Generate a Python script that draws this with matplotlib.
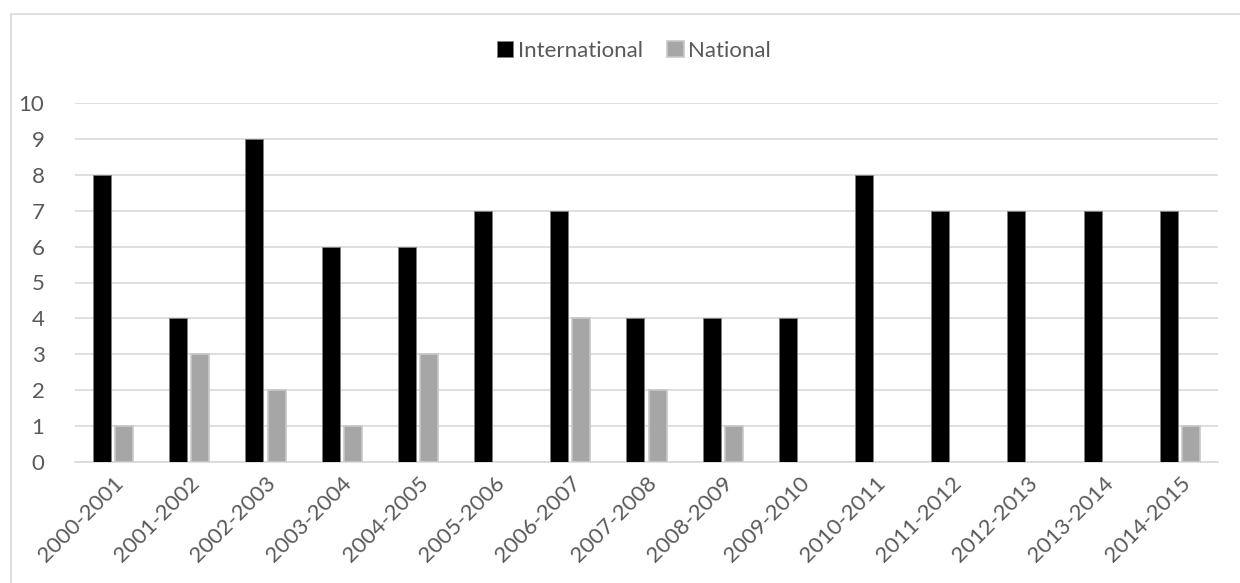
import numpy as np
import matplotlib
matplotlib.use("Agg")
import matplotlib.pyplot as plt
from matplotlib.patches import Rectangle

plt.rcParams["font.family"] = ["Lato", "DejaVu Sans"]

# ── Datos ────────────────────────────────────────────────────────
seasons = ["2000-2001", "2001-2002", "2002-2003", "2003-2004", "2004-2005",
           "2005-2006", "2006-2007", "2007-2008", "2008-2009", "2009-2010",
           "2010-2011", "2011-2012", "2012-2013", "2013-2014", "2014-2015"]
international = [8, 4, 9, 6, 6, 7, 7, 4, 4, 4, 8, 7, 7, 7, 7]
national = [1, 3, 2, 1, 3, 0, 4, 2, 1, 0, 0, 0, 0, 0, 1]

TXT = "#595959"
GRID = "#d9d9d9"
FS = 16

fig = plt.figure(figsize=(12.4, 5.83), dpi=100)
ax = fig.add_axes([75 / 1240, 1 - 462 / 583, (1218 - 75) / 1240, (462 - 103) / 583])

# borde del área del gráfico
fig.patches.append(Rectangle((11 / 1240, -0.1), 1.2, 1 - 14 / 583 + 0.1,
                             transform=fig.transFigure, fill=False,
                             edgecolor=GRID, linewidth=1.2))

x = np.arange(len(seasons))
inter = np.array(international)
nat = np.array(national)
w = 0.235
off = 0.145
# las barras en cero no se dibujan (evita el borde sobre el eje)
mi, mn = inter > 0, nat > 0
ax.bar(x[mi] - off, inter[mi], w, color="black", edgecolor="#7f7f7f",
       linewidth=0.6, label="International", zorder=3)
ax.bar(x[mn] + off, nat[mn], w, color="#a6a6a6", edgecolor="#c8c8c8",
       linewidth=1.2, label="National", zorder=3)

ax.set_xlim(-0.5, len(seasons) - 0.5)
ax.set_ylim(0, 10)
ax.set_yticks(range(0, 11))
ax.grid(axis="y", color=GRID, linewidth=1.2, zorder=0)
for s in ["top", "right", "left"]:
    ax.spines[s].set_visible(False)
ax.spines["bottom"].set_color(GRID)
ax.spines["bottom"].set_linewidth(1.2)
ax.tick_params(axis="both", length=0, colors=TXT, labelsize=FS)
ax.tick_params(axis="y", pad=22)

ax.set_xticks(x)
ax.set_xticklabels(seasons, rotation=45, ha="right", rotation_mode="anchor")
ax.tick_params(axis="x", pad=8)

leg = fig.legend(loc="center", bbox_to_anchor=(634 / 1240, 1 - 51 / 583),
                 ncol=2, frameon=False, fontsize=FS, handlelength=0.75,
                 handleheight=0.75, handletextpad=0.2, columnspacing=1.1)
for t in leg.get_texts():
    t.set_color(TXT)

fig.savefig("out.png", dpi=100)
